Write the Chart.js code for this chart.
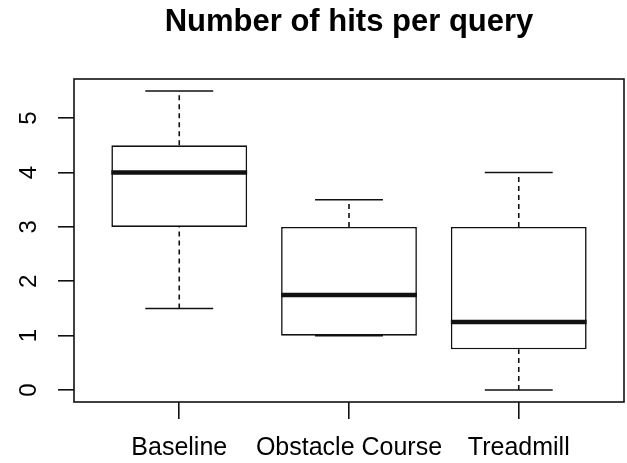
<!DOCTYPE html>
<html>
<head>
<meta charset="utf-8">
<script src="https://cdn.jsdelivr.net/npm/chart.js@4.4.0/dist/chart.umd.min.js"></script>
<style>
  html, body { margin: 0; padding: 0; background: #fff; }
  #wrap { width: 627px; height: 463px; }
</style>
</head>
<body>
<div id="wrap"><canvas id="box-chart" width="627" height="463"></canvas></div>
<script>
    // Datos del boxplot
    const categories = ['Baseline', 'Obstacle Course', 'Treadmill'];
    const mins    = [1.5, 1, 0];
    const q1      = [3, 1, 0.75];
    const medians = [4, 1.75, 1.25];
    const q3      = [4.5, 3, 3];
    const maxs    = [5.5, 3.5, 4];
    const yTicks  = [0, 1, 2, 3, 4, 5];

    const fontFamily = "'Liberation Sans', Arial, sans-serif";
    const ink = '#111';
    const lw = 1.6;

    // segmentos separados por huecos (y: null)
    function segments(list) {
        const out = [];
        list.forEach(function (seg, i) {
            if (i > 0) out.push({ x: seg[0].x, y: null });
            out.push(seg[0], seg[1]);
        });
        return out;
    }

    const boxData = categories.map((c, i) => ({ x: i + 1, y: [q1[i], q3[i]] }));
    const medianData = segments(categories.map((c, i) => [
        { x: i + 1 - 0.4, y: medians[i] }, { x: i + 1 + 0.4, y: medians[i] }
    ]));
    const capData = segments(categories.map((c, i) => [
        { x: i + 1 - 0.2, y: maxs[i] }, { x: i + 1 + 0.2, y: maxs[i] }
    ]).concat(categories.map((c, i) => [
        { x: i + 1 - 0.2, y: mins[i] }, { x: i + 1 + 0.2, y: mins[i] }
    ])));
    const whiskerData = segments(categories.map((c, i) => [
        { x: i + 1, y: q3[i] }, { x: i + 1, y: maxs[i] }
    ]).concat(categories.map((c, i) => [
        { x: i + 1, y: mins[i] }, { x: i + 1, y: q1[i] }
    ])));

    const lineBase = { type: 'line', pointRadius: 0, borderColor: ink, fill: false, spanGaps: false, order: 1 };

    // marco alrededor del area del grafico
    const frame = {
        id: 'frame',
        afterDatasetsDraw(chart) {
            const a = chart.chartArea, ctx = chart.ctx;
            ctx.save();
            ctx.strokeStyle = ink;
            ctx.lineWidth = lw;
            ctx.strokeRect(a.left, a.top, a.right - a.left, a.bottom - a.top);
            ctx.restore();
        }
    };

    const boxChart = new Chart(document.getElementById('box-chart'), {
        type: 'bar',
        data: {
            datasets: [
                Object.assign({}, lineBase, { data: medianData, borderWidth: 4.5, borderCapStyle: 'butt', order: 0 }),
                Object.assign({}, lineBase, { data: capData, borderWidth: lw }),
                Object.assign({}, lineBase, { data: whiskerData, borderWidth: lw, borderDash: [5, 4] }),
                {
                    type: 'bar',
                    data: boxData,
                    backgroundColor: '#fff',
                    borderColor: ink,
                    borderWidth: lw,
                    borderSkipped: false,
                    barPercentage: 0.8,
                    categoryPercentage: 1.0,
                    order: 2
                }
            ]
        },
        options: {
            responsive: false,
            animation: false,
            devicePixelRatio: 1,
            layout: { padding: { left: 0, right: 3, top: 0, bottom: 0 } },
            plugins: {
                legend: { display: false },
                tooltip: { enabled: false },
                title: {
                    display: true,
                    text: 'Number of hits per query',
                    color: '#000',
                    fullSize: false,
                    font: { family: fontFamily, size: 31, weight: 'bold' },
                    padding: { top: 4, bottom: 37.8 }
                }
            },
            scales: {
                x: {
                    type: 'linear',
                    offset: false,
                    min: 0.38,
                    max: 3.62,
                    afterBuildTicks: s => { s.ticks = categories.map((c, i) => ({ value: i + 1 })); },
                    afterFit: s => { s.height = 61; },
                    border: { display: false },
                    grid: { offset: false, drawOnChartArea: false, drawTicks: true, tickLength: 17, color: ink, lineWidth: lw },
                    ticks: {
                        color: '#000',
                        padding: 14.5,
                        maxRotation: 0,
                        autoSkip: false,
                        font: { family: fontFamily, size: 25 },
                        callback: v => categories[v - 1]
                    }
                },
                y: {
                    type: 'linear',
                    min: -0.22,
                    max: 5.72,
                    afterBuildTicks: s => { s.ticks = yTicks.map(v => ({ value: v })); },
                    afterFit: s => { s.width = 74; },
                    border: { display: false },
                    grid: { drawOnChartArea: false, drawTicks: true, tickLength: 16, color: ink, lineWidth: lw },
                    ticks: {
                        color: '#000',
                        padding: 22,
                        minRotation: 90,
                        maxRotation: 90,
                        crossAlign: 'center',
                        autoSkip: false,
                        font: { family: fontFamily, size: 24 }
                    }
                }
            }
        },
        plugins: [frame]
    });
</script>
</body>
</html>
